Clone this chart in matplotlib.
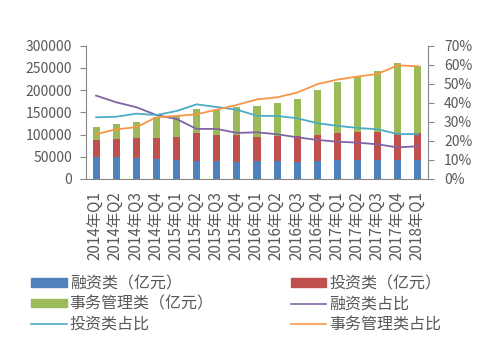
import numpy as np
import matplotlib
matplotlib.use("Agg")
import matplotlib.pyplot as plt
from matplotlib.patches import Patch
from matplotlib.lines import Line2D
from matplotlib.ticker import FuncFormatter

plt.rcParams['font.family'] = ['Noto Sans CJK SC', 'DejaVu Sans']

quarters = ['2014年Q1', '2014年Q2', '2014年Q3', '2014年Q4',
            '2015年Q1', '2015年Q2', '2015年Q3', '2015年Q4',
            '2016年Q1', '2016年Q2', '2016年Q3', '2016年Q4',
            '2017年Q1', '2017年Q2', '2017年Q3', '2017年Q4', '2018年Q1']

# stacked tops (亿元)
rongzi = [49500, 49500, 48000, 45000, 43500, 40500, 40500, 39000,
          40500, 40500, 39000, 40500, 43500, 43500, 43500, 43500, 43500]
touzi_top = [88500, 90750, 93000, 93000, 94500, 103500, 99000, 99000,
             94500, 97500, 96750, 99000, 103500, 105750, 105750, 103500, 103500]
shiwu_top = [117000, 123750, 128250, 139500, 141750, 157500, 155250, 162000,
             164250, 171000, 180000, 200250, 218250, 230250, 243000, 261000, 254250]

# share lines (%)
rongzi_pct = [43.8, 40.3, 37.7, 33.6, 31.5, 26.3, 26.3, 24.2,
              24.5, 23.5, 21.9, 20.5, 19.6, 19.1, 18.2, 16.6, 17.2]
touzi_pct = [32.4, 32.7, 34.3, 33.6, 35.7, 39.2, 37.8, 36.4,
             33.2, 33.1, 31.9, 29.3, 27.9, 26.8, 26.1, 23.6, 23.6]
shiwu_pct = [23.5, 26.1, 27.2, 32.4, 33.1, 34.0, 36.4, 38.9,
             41.8, 42.9, 45.4, 49.8, 52.2, 53.8, 55.2, 59.7, 59.2]

touzi = np.array(touzi_top) - np.array(rongzi)
shiwu = np.array(shiwu_top) - np.array(touzi_top)

c_blue, c_red, c_green = '#4F81BD', '#C0504D', '#9BBB59'
c_purple, c_cyan, c_orange = '#8064A2', '#4BACC6', '#F79646'
txt = '#595959'
spine = '#868686'

fig = plt.figure(figsize=(4.95, 3.38), dpi=100)
ax = fig.add_axes([86/495, 1-179/338, (428-86)/495, (179-45.7)/338])
ax2 = ax.twinx()

x = np.arange(len(quarters))
w = 0.35
ax.bar(x, rongzi, w, color=c_blue, zorder=2)
ax.bar(x, touzi, w, bottom=rongzi, color=c_red, zorder=2)
ax.bar(x, shiwu, w, bottom=touzi_top, color=c_green, zorder=2)

ax2.plot(x, np.array(rongzi_pct)/100, color=c_purple, lw=1.3)
ax2.plot(x, np.array(touzi_pct)/100, color=c_cyan, lw=1.3)
ax2.plot(x, np.array(shiwu_pct)/100, color=c_orange, lw=1.3)

ax.set_xlim(-0.5, len(quarters)-0.5)
ax.set_ylim(0, 300000)
ax.set_yticks(np.arange(0, 300001, 50000))
ax2.set_ylim(0, 0.7)
ax2.set_yticks(np.arange(0, 0.71, 0.1))
ax2.yaxis.set_major_formatter(FuncFormatter(lambda v, p: '{:.0f}%'.format(v*100)))

ax.set_xticks(x)
ax.set_xticklabels(quarters, rotation=90, fontsize=11, color=txt)
ax.tick_params(axis='x', length=0, pad=9)
ax.tick_params(axis='y', labelsize=10, labelcolor=txt, color=spine, length=4, pad=6)
ax2.tick_params(axis='y', labelsize=10, labelcolor=txt, color=spine, length=4, pad=7.5)

for a in (ax, ax2):
    a.spines['top'].set_visible(False)
    for s in ('left', 'right', 'bottom'):
        a.spines[s].set_color(spine)
ax.spines['right'].set_visible(False)
ax2.spines['left'].set_visible(False)
ax2.spines['bottom'].set_visible(False)

handles = [
    Patch(color=c_blue, label='融资类（亿元）'),
    Patch(color=c_green, label='事务管理类（亿元）'),
    Line2D([], [], color=c_cyan, lw=1.2, label='投资类占比'),
    Patch(color=c_red, label='投资类（亿元）'),
    Line2D([], [], color=c_purple, lw=1.2, label='融资类占比'),
    Line2D([], [], color=c_orange, lw=1.2, label='事务管理类占比'),
]
leg = fig.legend(handles=handles, ncol=2, loc='upper left',
                 bbox_to_anchor=(17/495, 1-261/338), frameon=False,
                 fontsize=11.5, handlelength=2.2, handleheight=0.45,
                 handletextpad=0.2, columnspacing=4.83, labelspacing=0.2)
for t in leg.get_texts():
    t.set_color(txt)

fig.savefig('out.png', dpi=100)
